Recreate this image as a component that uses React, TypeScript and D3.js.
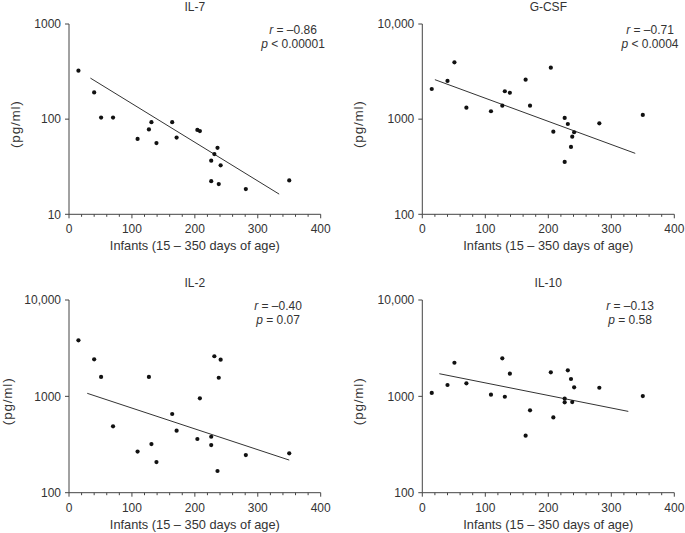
import React from "react";
import * as d3 from "d3";

const ages = [15, 40, 51, 70, 109, 127, 131, 139, 164, 171, 204, 208, 226, 226, 231, 236, 238, 241, 281, 350];

const il7 = [323, 191, 104, 104, 62, 78, 93, 56, 93, 64, 77, 75, 36.6, 22.3, 43, 50, 20.8, 32.7, 18.4, 22.7];
const gcsf = [2075, 2520, 3960, 1320, 1210, 1385, 1965, 1895, 2600, 1385, 3475, 738, 1030, 355, 889, 510, 655, 728, 903, 1107];
const il2 = [3818, 2423, 1590, 489, 267, 1590, 320, 208, 656, 440, 361, 955, 381, 312, 2608, 168, 1560, 2400, 246, 256];
const il10 = [1084, 1312, 2233, 1365, 1040, 2483, 990, 1718, 391, 716, 1774, 605, 946, 867, 1862, 1514, 873, 1240, 1228, 1007];

const il7Line = [[34, 270], [334, 16.3]];
const gcsfLine = [[20, 2600], [338, 437]];
const il2Line = [[29, 1075], [350, 218]];
const il10Line = [[27, 1718], [327, 698]];

const titles = ["IL-7", "G-CSF", "IL-2", "IL-10"];
const rTexts = ["–0.86", "–0.71", "–0.40", "–0.13"];
const pTexts = ["< 0.00001", "< 0.0004", "= 0.07", "= 0.58"];
const yDomains = [[10, 1000], [100, 10000], [100, 10000], [100, 10000]];
const yTickValues = [[10, 100, 1000], [100, 1000, 10000], [100, 1000, 10000], [100, 1000, 10000]];
const yTickLabels = [["10", "100", "1000"], ["100", "1000", "10,000"], ["100", "1000", "10,000"], ["100", "1000", "10,000"]];
const xTicks = [0, 100, 200, 300, 400];
const xMinor = d3.range(0, 401, 20);
const xLabel = "Infants (15 – 350 days of age)";
const yLabel = "(pg/ml)";

const seriesList = [il7, gcsf, il2, il10];
const lineList = [il7Line, gcsfLine, il2Line, il10Line];

const layouts = [
  { x0: 69, x1: 320.7, y0: 24, y1: 214.3, ylab: 15, ann: 293 },
  { x0: 422.3, x1: 674.3, y0: 24, y1: 214.3, ylab: 358, ann: 650 },
  { x0: 69, x1: 320.7, y0: 300, y1: 492.7, ylab: 7.5, ann: 278 },
  { x0: 422.3, x1: 674.3, y0: 300, y1: 492.7, ylab: 358, ann: 630 },
];

const FONT = "'Liberation Sans', Arial, Helvetica, sans-serif";
const TXT = "#333";

function Panel({ i }: { i: number }) {
  const L = layouts[i];
  const x = d3.scaleLinear().domain([0, 400]).range([L.x0, L.x1]);
  const y = d3.scaleLog().domain(yDomains[i]).range([L.y1, L.y0]);
  const data = seriesList[i];
  const ln = lineList[i];
  const lineGen = d3.line<number[]>().x((d) => x(d[0])).y((d) => y(d[1]));
  const cx = (L.x0 + L.x1) / 2;
  const cy = (L.y0 + L.y1) / 2 + 5;
  return (
    <g fontFamily={FONT} fill={TXT}>
      <text x={cx} y={L.y0 - 13} textAnchor="middle" fontSize={12}>{titles[i]}</text>
      <line x1={L.x0} x2={L.x0} y1={L.y0} y2={L.y1} stroke="#444" strokeWidth={1} />
      <line x1={L.x0} x2={L.x1} y1={L.y1} y2={L.y1} stroke="#444" strokeWidth={1} />
      {yTickValues[i].map((t, k) => (
        <g key={"y" + t}>
          <line x1={L.x0 - 4} x2={L.x0} y1={y(t)} y2={y(t)} stroke="#444" />
          <text x={L.x0 - 8} y={y(t)} dy="0.35em" textAnchor="end" fontSize={12}>{yTickLabels[i][k]}</text>
        </g>
      ))}
      {xMinor.map((t) => (
        <line key={"m" + t} x1={x(t)} x2={x(t)} y1={L.y1} y2={L.y1 + (t % 100 === 0 ? 4 : 2.5)} stroke="#444" />
      ))}
      {xTicks.map((t) => (
        <text key={"x" + t} x={x(t)} y={L.y1 + 19} textAnchor="middle" fontSize={12}>{t}</text>
      ))}
      <text x={cx} y={L.y1 + 36} textAnchor="middle" fontSize={12.8}>{xLabel}</text>
      <text transform={`translate(${L.ylab},${cy}) rotate(-90)`} textAnchor="middle" dy="0.35em" fontSize={13.5} letterSpacing={0.8}>{yLabel}</text>
      <text x={L.ann} y={L.y0 + 10} textAnchor="middle" fontSize={12}>
        <tspan fontStyle="italic">r</tspan> = {rTexts[i]}
      </text>
      <text x={L.ann} y={L.y0 + 24} textAnchor="middle" fontSize={12}>
        <tspan fontStyle="italic">p</tspan> {pTexts[i]}
      </text>
      <path d={lineGen(ln) || ""} stroke="#333" strokeWidth={1} fill="none" />
      {data.map((v, k) => (
        <circle key={k} cx={x(ages[k])} cy={y(v)} r={2.1} fill="#111" />
      ))}
    </g>
  );
}

export default function App() {
  return (
    <svg width={685} height={533} style={{ position: "absolute", left: 0, top: 0, background: "#fff" }}>
      {[0, 1, 2, 3].map((i) => (
        <Panel key={i} i={i} />
      ))}
    </svg>
  );
}
